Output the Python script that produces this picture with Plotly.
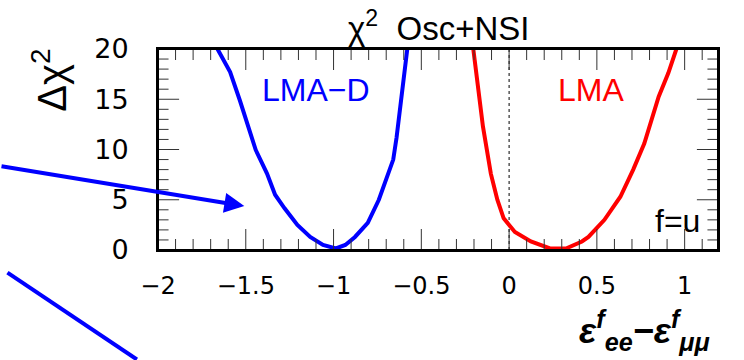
import plotly.graph_objects as go

# LMA-D (blue) curve
blue_x = [-1.661, -1.589, -1.534, -1.488, -1.443, -1.379, -1.333, -1.279, -1.206, -1.133,
          -1.060, -0.987, -0.933, -0.878, -0.805, -0.742, -0.700, -0.660, -0.641, -0.610, -0.580]
blue_y = [20.0, 17.7, 14.9, 12.3, 9.95, 7.6, 5.5, 4.15, 2.5, 1.3,
          0.5, 0.15, 0.5, 1.3, 2.7, 5.0, 7.0, 9.0, 11.2, 15.6, 20.0]

# LMA (red) curve
red_x = [-0.204, -0.177, -0.149, -0.104, -0.067, -0.031, 0.033, 0.124, 0.233, 0.324,
         0.415, 0.452, 0.543, 0.634, 0.707, 0.770, 0.807, 0.852, 0.907, 0.953]
red_y = [20.0, 15.9, 12.3, 7.6, 5.0, 3.15, 1.8, 0.85, 0.15, 0.15,
         0.85, 1.3, 3.0, 5.3, 8.0, 10.6, 12.6, 15.25, 17.6, 20.0]

x_range = [-2, 1.19]
y_range = [0, 20]
x_major = [-2, -1.5, -1, -0.5, 0, 0.5, 1]
x_minor = [round(-2 + 0.1 * i, 1) for i in range(32)]
y_major = [0, 5, 10, 15, 20]
y_minor = list(range(0, 21))

W, H = 744, 360
L, R, T, B = 158, 2, 49, 110
pw, ph = W - L - R, H - T - B

def px(x):
    return (x - L) / pw

def py(y):
    return (H - B - y) / ph

# pixel -> data unit conversions for tick lengths
ux = (x_range[1] - x_range[0]) / pw
uy = (y_range[1] - y_range[0]) / ph

fig = go.Figure()
fig.add_trace(go.Scatter(x=blue_x, y=blue_y, mode="lines",
                         line=dict(color="#0000ff", width=4), showlegend=False))
fig.add_trace(go.Scatter(x=red_x, y=red_y, mode="lines",
                         line=dict(color="#ff0000", width=4), showlegend=False))

# dotted vertical line at zero
fig.add_shape(type="line", x0=0, x1=0, y0=0, y1=20, xref="x", yref="y",
              line=dict(color="black", width=1, dash="dot"), layer="below")

TICK = dict(color="#333", width=1)
# x ticks (bottom and top, pointing inward)
for v in x_minor:
    ln = 21 if any(abs(v - m) < 1e-6 for m in x_major) else 11
    fig.add_shape(type="line", xref="x", yref="y", x0=v, x1=v,
                  y0=y_range[0], y1=y_range[0] + ln * uy, line=TICK)
    fig.add_shape(type="line", xref="x", yref="y", x0=v, x1=v,
                  y0=y_range[1], y1=y_range[1] - ln * uy, line=TICK)
# y ticks (left and right, pointing inward)
for v in y_minor:
    ln = 22 if v in y_major else 11
    fig.add_shape(type="line", xref="x", yref="y", y0=v, y1=v,
                  x0=x_range[0], x1=x_range[0] + ln * ux, line=TICK)
    fig.add_shape(type="line", xref="x", yref="y", y0=v, y1=v,
                  x0=x_range[1], x1=x_range[1] - ln * ux, line=TICK)

# frame
fig.add_shape(type="rect", xref="paper", yref="paper", x0=0, x1=1, y0=0, y1=1,
              line=dict(color="black", width=2), fillcolor="rgba(0,0,0,0)")

CLEAR = "rgba(0,0,0,0)"
fig.update_layout(
    xaxis=dict(range=x_range, tickvals=x_major, ticktext=["\u22122", "\u22121.5", "\u22121",
                                                           "\u22120.5", "0", "0.5", "1"],
               showline=True, linecolor="black", linewidth=2, mirror="allticks",
               gridcolor=CLEAR, zerolinecolor=CLEAR,
               ticks="outside", ticklen=13, tickcolor=CLEAR,
               tickfont=dict(family="DejaVu Sans", size=24, color="black")),
    yaxis=dict(range=y_range, tickvals=y_major,
               showline=True, linecolor="black", linewidth=2, mirror="allticks",
               gridcolor=CLEAR, zerolinecolor=CLEAR,
               ticks="outside", ticklen=22, tickcolor=CLEAR,
               tickfont=dict(family="DejaVu Sans", size=27, color="black")),
)

ann = []
# title
ann.append(dict(text="\u03c7<sup>2</sup>  Osc+NSI", x=px(450), y=py(26), xref="paper", yref="paper",
                showarrow=False, font=dict(family="Liberation Sans", size=33, color="black"),
                xanchor="center", yanchor="middle"))
# y title
ann.append(dict(text="\u0394\u03c7<sup>2</sup>", x=px(45), y=py(80), xref="paper", yref="paper",
                showarrow=False, textangle=-90,
                font=dict(family="Liberation Sans", size=40, color="black"),
                xanchor="center", yanchor="middle"))
# x title
ann.append(dict(text="<b><i>\u03b5<sup>f</sup><sub>ee</sub>\u2212\u03b5<sup>f</sup><sub>\u03bc\u03bc</sub></i></b>",
                x=px(665), y=py(330), xref="paper", yref="paper", showarrow=False,
                font=dict(family="Liberation Sans", size=36, color="black"),
                xanchor="center", yanchor="middle"))
ann.append(dict(text="LMA\u2212D", x=px(323), y=py(90), xref="paper", yref="paper",
                showarrow=False, font=dict(family="Liberation Sans", size=32, color="#0000ff"),
                xanchor="center", yanchor="middle"))
ann.append(dict(text="LMA", x=px(610), y=py(90), xref="paper", yref="paper",
                showarrow=False, font=dict(family="Liberation Sans", size=32, color="#ff0000"),
                xanchor="center", yanchor="middle"))
ann.append(dict(text="f=u", x=px(700), y=py(221), xref="paper", yref="paper",
                showarrow=False, font=dict(family="Liberation Sans", size=32, color="black"),
                xanchor="center", yanchor="middle"))
# arrow
ann.append(dict(text="", x=px(248), y=py(206), xref="paper", yref="paper",
                showarrow=True, ax=-245, ay=-40, axref="pixel", ayref="pixel",
                arrowhead=2, arrowsize=1.0, arrowwidth=4, arrowcolor="#0000ff"))

# second blue line
fig.add_shape(type="line", xref="paper", yref="paper",
              x0=px(1), y0=py(272.6), x1=px(136), y1=py(359.5),
              line=dict(color="#0000ff", width=4))

fig.update_layout(width=W, height=H, margin=dict(l=L, r=R, t=T, b=B),
                  plot_bgcolor="white", paper_bgcolor="white", annotations=ann,
                  font=dict(family="DejaVu Sans", color="black"))

fig.write_html("out.html")
